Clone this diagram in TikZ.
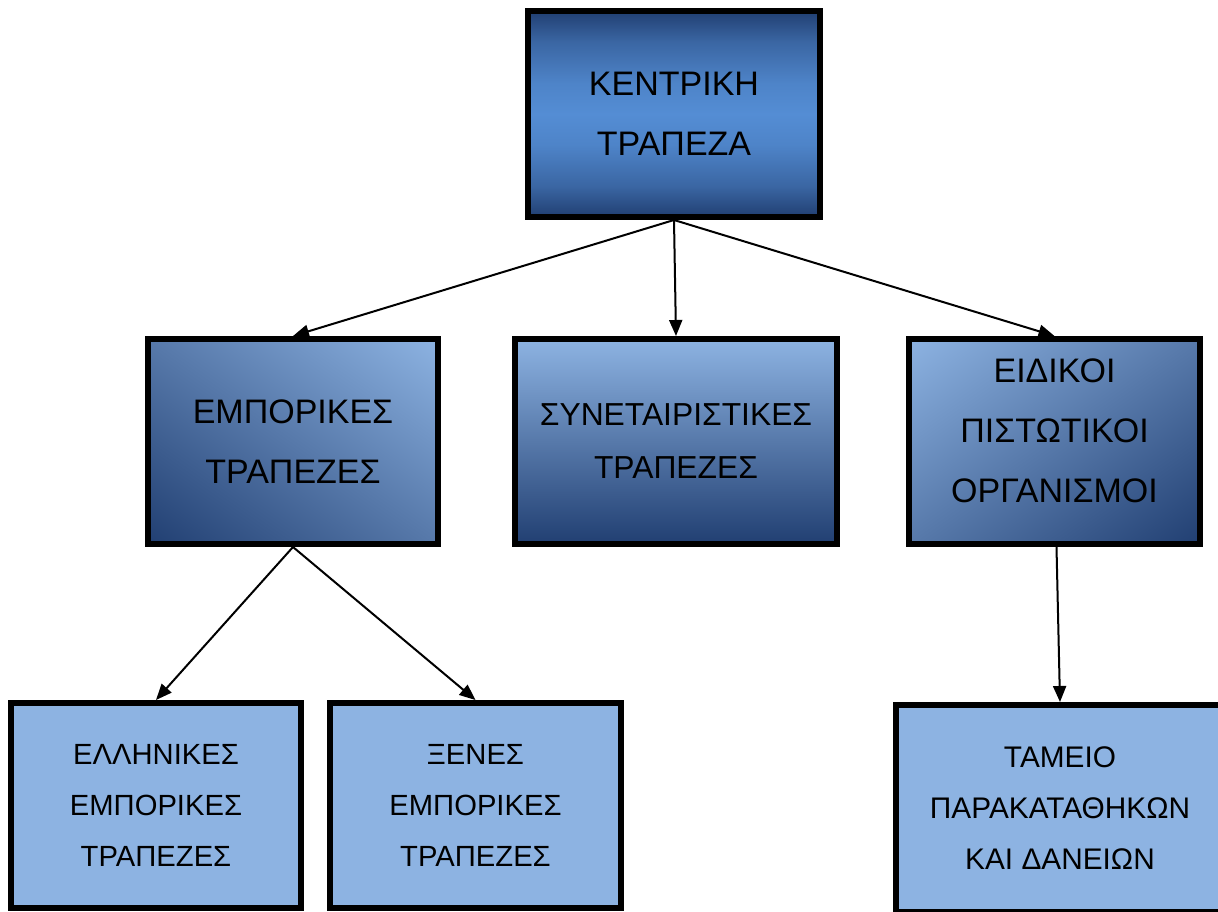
\documentclass[tikz,border=0pt]{standalone}
\usepackage{fontspec}
\setmainfont{Liberation Sans}
\usetikzlibrary{arrows.meta,shadings}
\definecolor{dkblue}{HTML}{213F72}
\definecolor{mdblue}{HTML}{548DD4}
\definecolor{ltblue}{HTML}{8DB3E2}
\pgfdeclareverticalshading{ktshade}{100bp}{%
  color(0bp)=(dkblue); color(25bp)=(dkblue); color(32.5bp)=(dkblue!50!mdblue);
  color(42.5bp)=(mdblue!88!dkblue); color(50bp)=(mdblue); color(57.5bp)=(mdblue!88!dkblue);
  color(67.5bp)=(dkblue!50!mdblue); color(75bp)=(dkblue); color(100bp)=(dkblue)}
\tikzset{
  box/.style={draw=black, line width=6pt, rectangle, inner sep=0pt, align=center},
  bigtxt/.style={font=\fontsize{34}{60}\selectfont},
  syntxt/.style={font=\fontsize{31.8}{53}\selectfont},
  smalltxt/.style={font=\fontsize{29.2}{51}\selectfont},
  tamtxt/.style={font=\fontsize{29.8}{51}\selectfont},
  conn/.style={line width=2pt, -{Triangle[length=16pt,width=13pt]}}
}
\begin{document}
\begin{tikzpicture}[x=1pt,y=-1pt]
\clip (0,0) rectangle (1218,911);
\fill[white] (0,0) rectangle (1218,911);
% top
\node[box, bigtxt, minimum width=292pt, minimum height=206pt,
      shading=ktshade] (kt) at (674,114) {ΚΕΝΤΡΙΚΗ\\ΤΡΑΠΕΖΑ};
% middle row
\node[box, bigtxt, minimum width=290pt, minimum height=205pt,
      lower left=dkblue, upper right=ltblue, upper left=ltblue!50!dkblue, lower right=ltblue!50!dkblue] (emp) at (293,441.5) {ΕΜΠΟΡΙΚΕΣ\\ΤΡΑΠΕΖΕΣ};
\node[box, syntxt, minimum width=322pt, minimum height=205pt,
      top color=ltblue, bottom color=dkblue] (syn) at (676,441.5) {ΣΥΝΕΤΑΙΡΙΣΤΙΚΕΣ\\ΤΡΑΠΕΖΕΣ};
\node[box, bigtxt, minimum width=291pt, minimum height=205pt,
      upper left=ltblue, lower right=dkblue, upper right=ltblue!50!dkblue, lower left=ltblue!50!dkblue] (eid) at (1054.5,441.5) {ΕΙΔΙΚΟΙ\\ΠΙΣΤΩΤΙΚΟΙ\\ΟΡΓΑΝΙΣΜΟΙ\rule[-22pt]{0pt}{0pt}};
% bottom row
\node[box, smalltxt, fill=ltblue, minimum width=290pt, minimum height=205pt] (ell) at (156,805.5) {ΕΛΛΗΝΙΚΕΣ\\ΕΜΠΟΡΙΚΕΣ\\ΤΡΑΠΕΖΕΣ};
\node[box, smalltxt, fill=ltblue, minimum width=291pt, minimum height=205pt] (xen) at (475.5,805.5) {ΞΕΝΕΣ\\ΕΜΠΟΡΙΚΕΣ\\ΤΡΑΠΕΖΕΣ};
\node[box, tamtxt, fill=ltblue, minimum width=328pt, minimum height=207pt] (tam) at (1060,808.5) {ΤΑΜΕΙΟ\\ΠΑΡΑΚΑΤΑΘΗΚΩΝ\\ΚΑΙ ΔΑΝΕΙΩΝ};
% connectors
\draw[conn] (kt.south) -- (emp.north);
\draw[conn] (kt.south) -- (syn.north);
\draw[conn] (kt.south) -- (eid.north);
\draw[conn] (emp.south) -- (ell.north);
\draw[conn] (emp.south) -- (xen.north);
\draw[conn] ([xshift=2pt]eid.south) -- (tam.north);
\end{tikzpicture}
\end{document}
